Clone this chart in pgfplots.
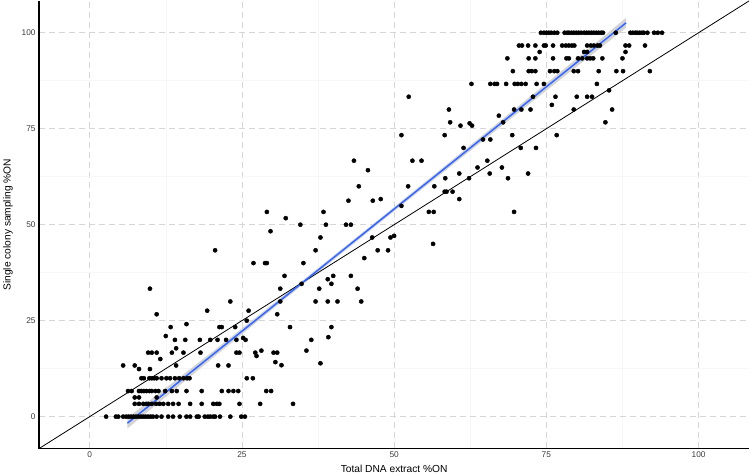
\documentclass[border=0pt]{standalone}
\usepackage{fontspec}
\setmainfont{Liberation Sans}
\usepackage{pgfplots}
\pgfplotsset{compat=1.18}
\usepgfplotslibrary{fillbetween}
\definecolor{gridgray}{RGB}{214,214,214}
\definecolor{ticktxt}{RGB}{60,60,60}
\definecolor{fitblue}{RGB}{51,102,255}
\definecolor{bandgray}{RGB}{212,212,212}

\begin{document}
\begin{tikzpicture}
\begin{axis}[
  width=709pt, height=447pt, scale only axis,
  xmin=-8.3, xmax=108.3, ymin=-8.3, ymax=108.3,
  axis x line*=bottom, axis y line*=left,
  axis line style={black, line width=1.8pt, -},
  xtick={0,25,50,75,100}, ytick={0,25,50,75,100},
  minor tick num=1,
  major tick length=0pt, minor tick length=0pt,
  grid=both,
  major grid style={gridgray, dash pattern=on 6pt off 4pt, line width=0.8pt},
  minor grid style={black!3, line width=0.5pt},
  tick label style={font=\fontsize{8.3}{10}\selectfont, text=ticktxt},
  /pgf/number format/assume math mode=true,
  xlabel={Total DNA extract \%ON},
  ylabel={Single colony sampling \%ON},
  label style={font=\fontsize{10.2}{12}\selectfont},
  ylabel style={yshift=2pt},
]

% confidence band of the fit
\addplot[name path=up, draw=none] coordinates {
  (6.2,-0.3) (20,16.7) (35,35.5) (50,54.6) (65,73.9) (80,93.3) (88.1,103.9)};
\addplot[name path=lo, draw=none] coordinates {
  (6.2,-3.1) (20,15.0) (35,34.4) (50,53.5) (65,72.4) (80,91.2) (88.1,101.3)};
\addplot[bandgray] fill between[of=up and lo];

% samples
\addplot[only marks, mark=*, mark size=2.1pt, black] coordinates {
  (2.7,0) (4.3,0) (4.7,0) (5.5,0) (6.0,0) (6.4,0) (6.8,0) (7.2,0) (7.6,0)
  (8.0,0) (8.4,0) (8.8,0) (9.2,0) (9.6,0) (10.0,0) (10.4,0) (11.0,0) (11.8,0)
  (12.9,0) (13.7,0) (14.8,0) (15.9,0) (16.5,0) (17.6,0) (17.9,0) (18.9,0)
  (19.4,0) (19.8,0) (20.3,0) (20.6,0) (21.4,0) (23.1,0) (24.9,0) (25.5,0)
  (7.4,3.33) (8.1,3.33) (8.8,3.33) (9.3,3.33) (9.6,3.33) (10.2,3.33)
  (10.9,3.33) (11.5,3.33) (12.1,3.33) (12.9,3.33) (13.7,3.33) (14.6,3.33)
  (16.5,3.33) (18.4,3.33) (20.3,3.33) (20.9,3.33) (21.3,3.33) (24.6,3.33)
  (28.0,3.33) (33.4,3.33)
  (7.4,5) (8.1,5) (11.0,5)
  (6.3,6.67) (6.9,6.67) (8.1,6.67) (8.5,6.67) (8.9,6.67) (9.3,6.67)
  (9.8,6.67) (10.2,6.67) (10.8,6.67) (11.3,6.67) (12.4,6.67) (13.5,6.67)
  (14.3,6.67) (15.9,6.67) (18.4,6.67) (21.7,6.67) (22.8,6.67) (23.6,6.67)
  (24.4,6.67) (29.0,6.67) (29.8,6.67)
  (8.5,10) (8.9,10) (9.8,10) (10.2,10) (10.6,10) (11.0,10) (11.8,10)
  (12.6,10) (13.2,10) (14.0,10) (14.7,10) (15.4,10) (16.0,10) (16.4,10)
  (25.8,10) (26.8,10)
  (8.1,12.4) (9.9,12.4) (5.5,13.33) (7.4,13.33) (14.2,13.33) (21.1,13.33)
  (22.8,13.33) (31.5,13.4) (30.5,14.2) (37.9,13.9) (11.6,15) (27.4,15.8)
  (9.6,16.67) (10.2,16.67) (11.0,16.67) (13.5,16.67) (15.4,16.67)
  (18.2,16.67) (24.1,16.67) (24.6,16.67) (27.2,16.67) (30.2,16.67)
  (30.8,16.67) (14.2,17.8) (28.2,17.2) (35.6,17.2)
  (12.5,21) (14.0,20) (15.7,20) (18.1,20) (19.8,20) (21.0,20) (22.4,20)
  (24.1,20) (25.2,20.5) (25.6,20) (36.4,20) (39.2,20.7)
  (13.3,23.33) (21.3,23.33) (21.7,23.33) (23.9,23.33) (32.9,23.33)
  (39.7,23.33) (15.9,24.1) (25.8,25)
  (11.0,26.67) (30.8,26.67) (19.3,27.6) (26.1,27.6)
  (23.1,30) (31.3,30) (37.1,30) (39.1,30) (40.7,30) (44.6,30)
  (9.9,33.33) (31.3,33.33) (37.7,33.33) (44.0,33.33)
  (34.8,34.6) (39.7,34.6) (39.1,35.8)
  (32.0,36.67) (40.0,36.67) (42.9,36.67)
  (26.9,40) (28.8,40) (29.1,40) (35.1,40) (45.1,41.3)
  (20.6,43.33) (37.1,43.33) (47.3,43.33) (49.0,43.33) (56.4,45)
  (37.9,46.67) (46.4,46.67) (49.4,46.67) (50.0,47.1) (29.7,48.3)
  (34.6,50) (38.8,50) (42.1,50) (42.9,50) (32.2,51.7)
  (29.1,53.33) (38.4,53.33) (55.7,53.33) (56.5,53.33) (69.7,53.33)
  (51.2,54.9)
  (42.5,56.25) (46.5,56.25) (47.8,56.67) (60.7,56.67)
  (58.3,58.6) (58.6,58.6) (59.6,58.6)
  (44.2,60) (52.3,60) (56.6,60)
  (58.4,62.1) (62.3,62.1) (68.7,62.1)
  (60.7,63.33) (65.7,63.33) (72.0,63.33)
  (45.7,64.2) (63.7,64.9) (67.7,64.9)
  (43.4,66.67) (53.0,66.67) (54.5,66.67) (65.3,66.67)
  (61.4,70) (70.8,70) (73.3,70) (64.6,72.2) (65.8,72.2)
  (51.2,73.33) (58.3,73.33) (69.4,73.33) (76.7,73.33)
  (60.9,75.8) (62.8,75.8) (62.4,76.4)
  (59.2,76.67) (67.9,76.67) (84.7,76.67) (67.2,78.4)
  (59.0,80) (69.7,80) (70.9,80) (72.4,80) (79.5,80) (85.8,80) (75.9,81.2)
  (52.4,83.33) (72.8,83.33) (76.5,83.33) (80.0,83.33) (81.7,83.33)
  (82.5,83.33) (85.3,85)
  (62.7,86.67) (65.8,86.67) (66.5,86.67) (66.9,86.67) (68.4,86.67)
  (69.8,86.67) (70.3,86.67) (70.9,86.67) (71.6,86.67) (73.4,86.67)
  (74.6,86.67) (83.3,86.67)
  (69.5,90) (72.1,90) (72.6,90) (73.2,90) (75.6,90) (76.3,90) (76.8,90)
  (79.5,90) (80.2,90) (83.6,90) (86.5,90) (87.6,90) (92.0,90)
  (68.6,93.33) (72.1,93.33) (73.2,93.33) (76.1,93.33) (78.3,93.33)
  (78.7,93.33) (80.2,93.33) (80.9,93.33) (81.7,93.33) (82.2,93.33)
  (82.7,93.33) (84.2,93.33) (87.5,93.33)
  (73.9,95) (81.2,95) (81.7,95) (88.0,95)
  (70.5,96.67) (71.0,96.67) (72.0,96.67) (73.2,96.67) (74.6,96.67)
  (74.9,96.67) (76.1,96.67) (77.6,96.67) (78.2,96.67) (78.7,96.67)
  (79.2,96.67) (79.6,96.67) (81.7,96.67) (82.3,96.67) (82.8,96.67)
  (83.4,96.67) (83.8,96.67) (88.0,96.67) (88.6,96.67) (91.2,96.67)
  (74.1,100) (74.6,100) (75.0,100) (75.4,100) (75.8,100) (76.3,100)
  (76.8,100) (78.0,100) (78.4,100) (78.7,100) (79.1,100) (79.5,100)
  (79.9,100) (80.3,100) (80.7,100) (81.2,100) (81.6,100) (82.0,100)
  (82.4,100) (82.8,100) (83.2,100) (83.6,100) (84.0,100) (84.3,100)
  (86.4,100) (88.8,100) (89.2,100) (89.6,100) (89.9,100) (90.3,100)
  (90.7,100) (91.0,100) (91.6,100) (92.7,100) (93.3,100) (94.0,100)
};

% identity line
\addplot[black, line width=0.8pt] coordinates {(-8.3,-8.3) (108.3,108.3)};
% linear fit
\addplot[fitblue, line width=1.5pt] coordinates {(6.2,-1.7) (88.1,102.6)};
\end{axis}
\end{tikzpicture}
\end{document}
